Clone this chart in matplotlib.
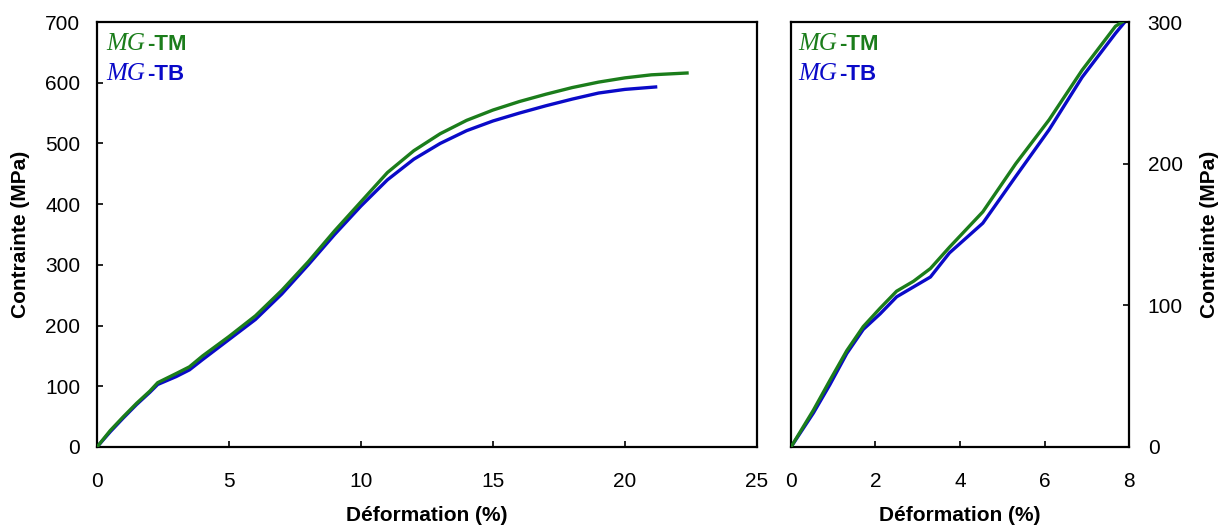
import matplotlib
matplotlib.use("Agg")
import matplotlib.pyplot as plt

# ---- data (left panel: full curves) ----
x_tm_full = [0, 0.5, 1.0, 1.5, 2.0, 2.3, 3.0, 3.5, 4.0, 5.0, 6.0, 7.0, 8.0, 9.0, 10.0,
             11.0, 12.0, 13.0, 14.0, 15.0, 16.0, 17.0, 18.0, 19.0, 20.0, 21.0, 22.35]
y_tm_full = [0, 27, 50, 72, 92, 106, 121, 132, 150, 182, 216, 258, 305, 356, 404,
             452, 488, 516, 538, 555, 569, 581, 592, 601, 608, 613, 616]
x_tb_full = [0, 0.5, 1.0, 1.5, 2.0, 2.3, 3.0, 3.5, 4.0, 5.0, 6.0, 7.0, 8.0, 9.0, 10.0,
             11.0, 12.0, 13.0, 14.0, 15.0, 16.0, 17.0, 18.0, 19.0, 20.0, 21.16]
y_tb_full = [0, 25, 48, 70, 90, 103, 116, 127, 144, 177, 210, 252, 300, 350, 397,
             440, 474, 500, 521, 537, 550, 562, 573, 583, 589, 593]

# ---- data (right panel: zoom on 0-8 %) ----
x_tm_zoom = [0, 0.53, 0.92, 1.32, 1.71, 2.11, 2.5, 2.9, 3.3, 3.75, 4.54, 5.32, 6.11, 6.89, 7.68, 7.84]
y_tm_zoom = [0, 26, 47, 68, 85, 98, 110, 117, 126, 141, 166, 200, 231, 266, 297, 300]
x_tb_zoom = [0, 0.53, 0.92, 1.32, 1.71, 2.11, 2.5, 2.9, 3.3, 3.75, 4.54, 5.32, 6.11, 6.89, 7.68, 7.9]
y_tb_zoom = [0, 24, 44, 66, 83, 94, 106, 113, 120, 137, 158, 191, 224, 261, 292, 300]

left_xticks = [0, 5, 10, 15, 20, 25]
left_yticks = [0, 100, 200, 300, 400, 500, 600, 700]
right_xticks = [0, 2, 4, 6, 8]
right_yticks = [0, 100, 200, 300]

GREEN = "#1b7d1b"
BLUE = "#0a0ac8"

W, H = 1228, 526
fig = plt.figure(figsize=(W / 100, H / 100), dpi=100)
plt.rcParams["font.family"] = ["Liberation Sans", "DejaVu Sans"]

TICK_FS = 15
LABEL_FS = 15


def px_axes(l, t, r, b):
    return fig.add_axes([l / W, 1 - b / H, (r - l) / W, (b - t) / H])


axL = px_axes(97, 22, 757, 447)
axR = px_axes(791, 22, 1129, 447)

for ax in (axL, axR):
    for s in ax.spines.values():
        s.set_linewidth(1.6)
        s.set_color("black")
    ax.tick_params(direction="in", length=4, width=1.2, labelsize=TICK_FS, colors="black")
    ax.tick_params(axis="x", pad=18)

axL.plot(x_tm_full, y_tm_full, color=GREEN, lw=2.4, zorder=3)
axL.plot(x_tb_full, y_tb_full, color=BLUE, lw=2.4, zorder=2)
axL.set_xlim(0, 25)
axL.set_ylim(0, 700)
axL.set_xticks(left_xticks)
axL.set_yticks(left_yticks)
axL.tick_params(axis="y", pad=12)
axL.set_xlabel("Déformation (%)", fontsize=LABEL_FS, fontweight="bold", labelpad=11)
axL.set_ylabel("Contrainte (MPa)", fontsize=LABEL_FS, fontweight="bold", labelpad=11)

axR.plot(x_tm_zoom, y_tm_zoom, color=GREEN, lw=2.4, zorder=3)
axR.plot(x_tb_zoom, y_tb_zoom, color=BLUE, lw=2.4, zorder=2)
axR.set_xlim(0, 8)
axR.set_ylim(0, 300)
axR.set_xticks(right_xticks)
axR.set_yticks(right_yticks)
axR.yaxis.tick_right()
axR.yaxis.set_label_position("right")
axR.tick_params(axis="y", pad=13.5)
axR.set_xlabel("Déformation (%)", fontsize=LABEL_FS, fontweight="bold", labelpad=11)
axR.set_ylabel("Contrainte (MPa)", fontsize=LABEL_FS, fontweight="bold", labelpad=12)

# ---- in-plot legends: italic serif "MG" + bold sans suffix ----
renderer = fig.canvas.get_renderer()


def label(xp, yp, suffix, color):
    t1 = fig.text(xp / W, 1 - yp / H, "MG", family="Liberation Serif", style="italic",
                  fontsize=18, color=color, va="baseline", ha="left")
    bb = t1.get_window_extent(renderer)
    fig.text((bb.x1 + 2) / W, 1 - yp / H, "-" + suffix, family="Liberation Sans",
             fontweight="bold", fontsize=16, color=color, va="baseline", ha="left")


for x0 in (106, 798):
    label(x0, 50, "TM", GREEN)
    label(x0, 80, "TB", BLUE)

fig.savefig("out.png", dpi=100)
